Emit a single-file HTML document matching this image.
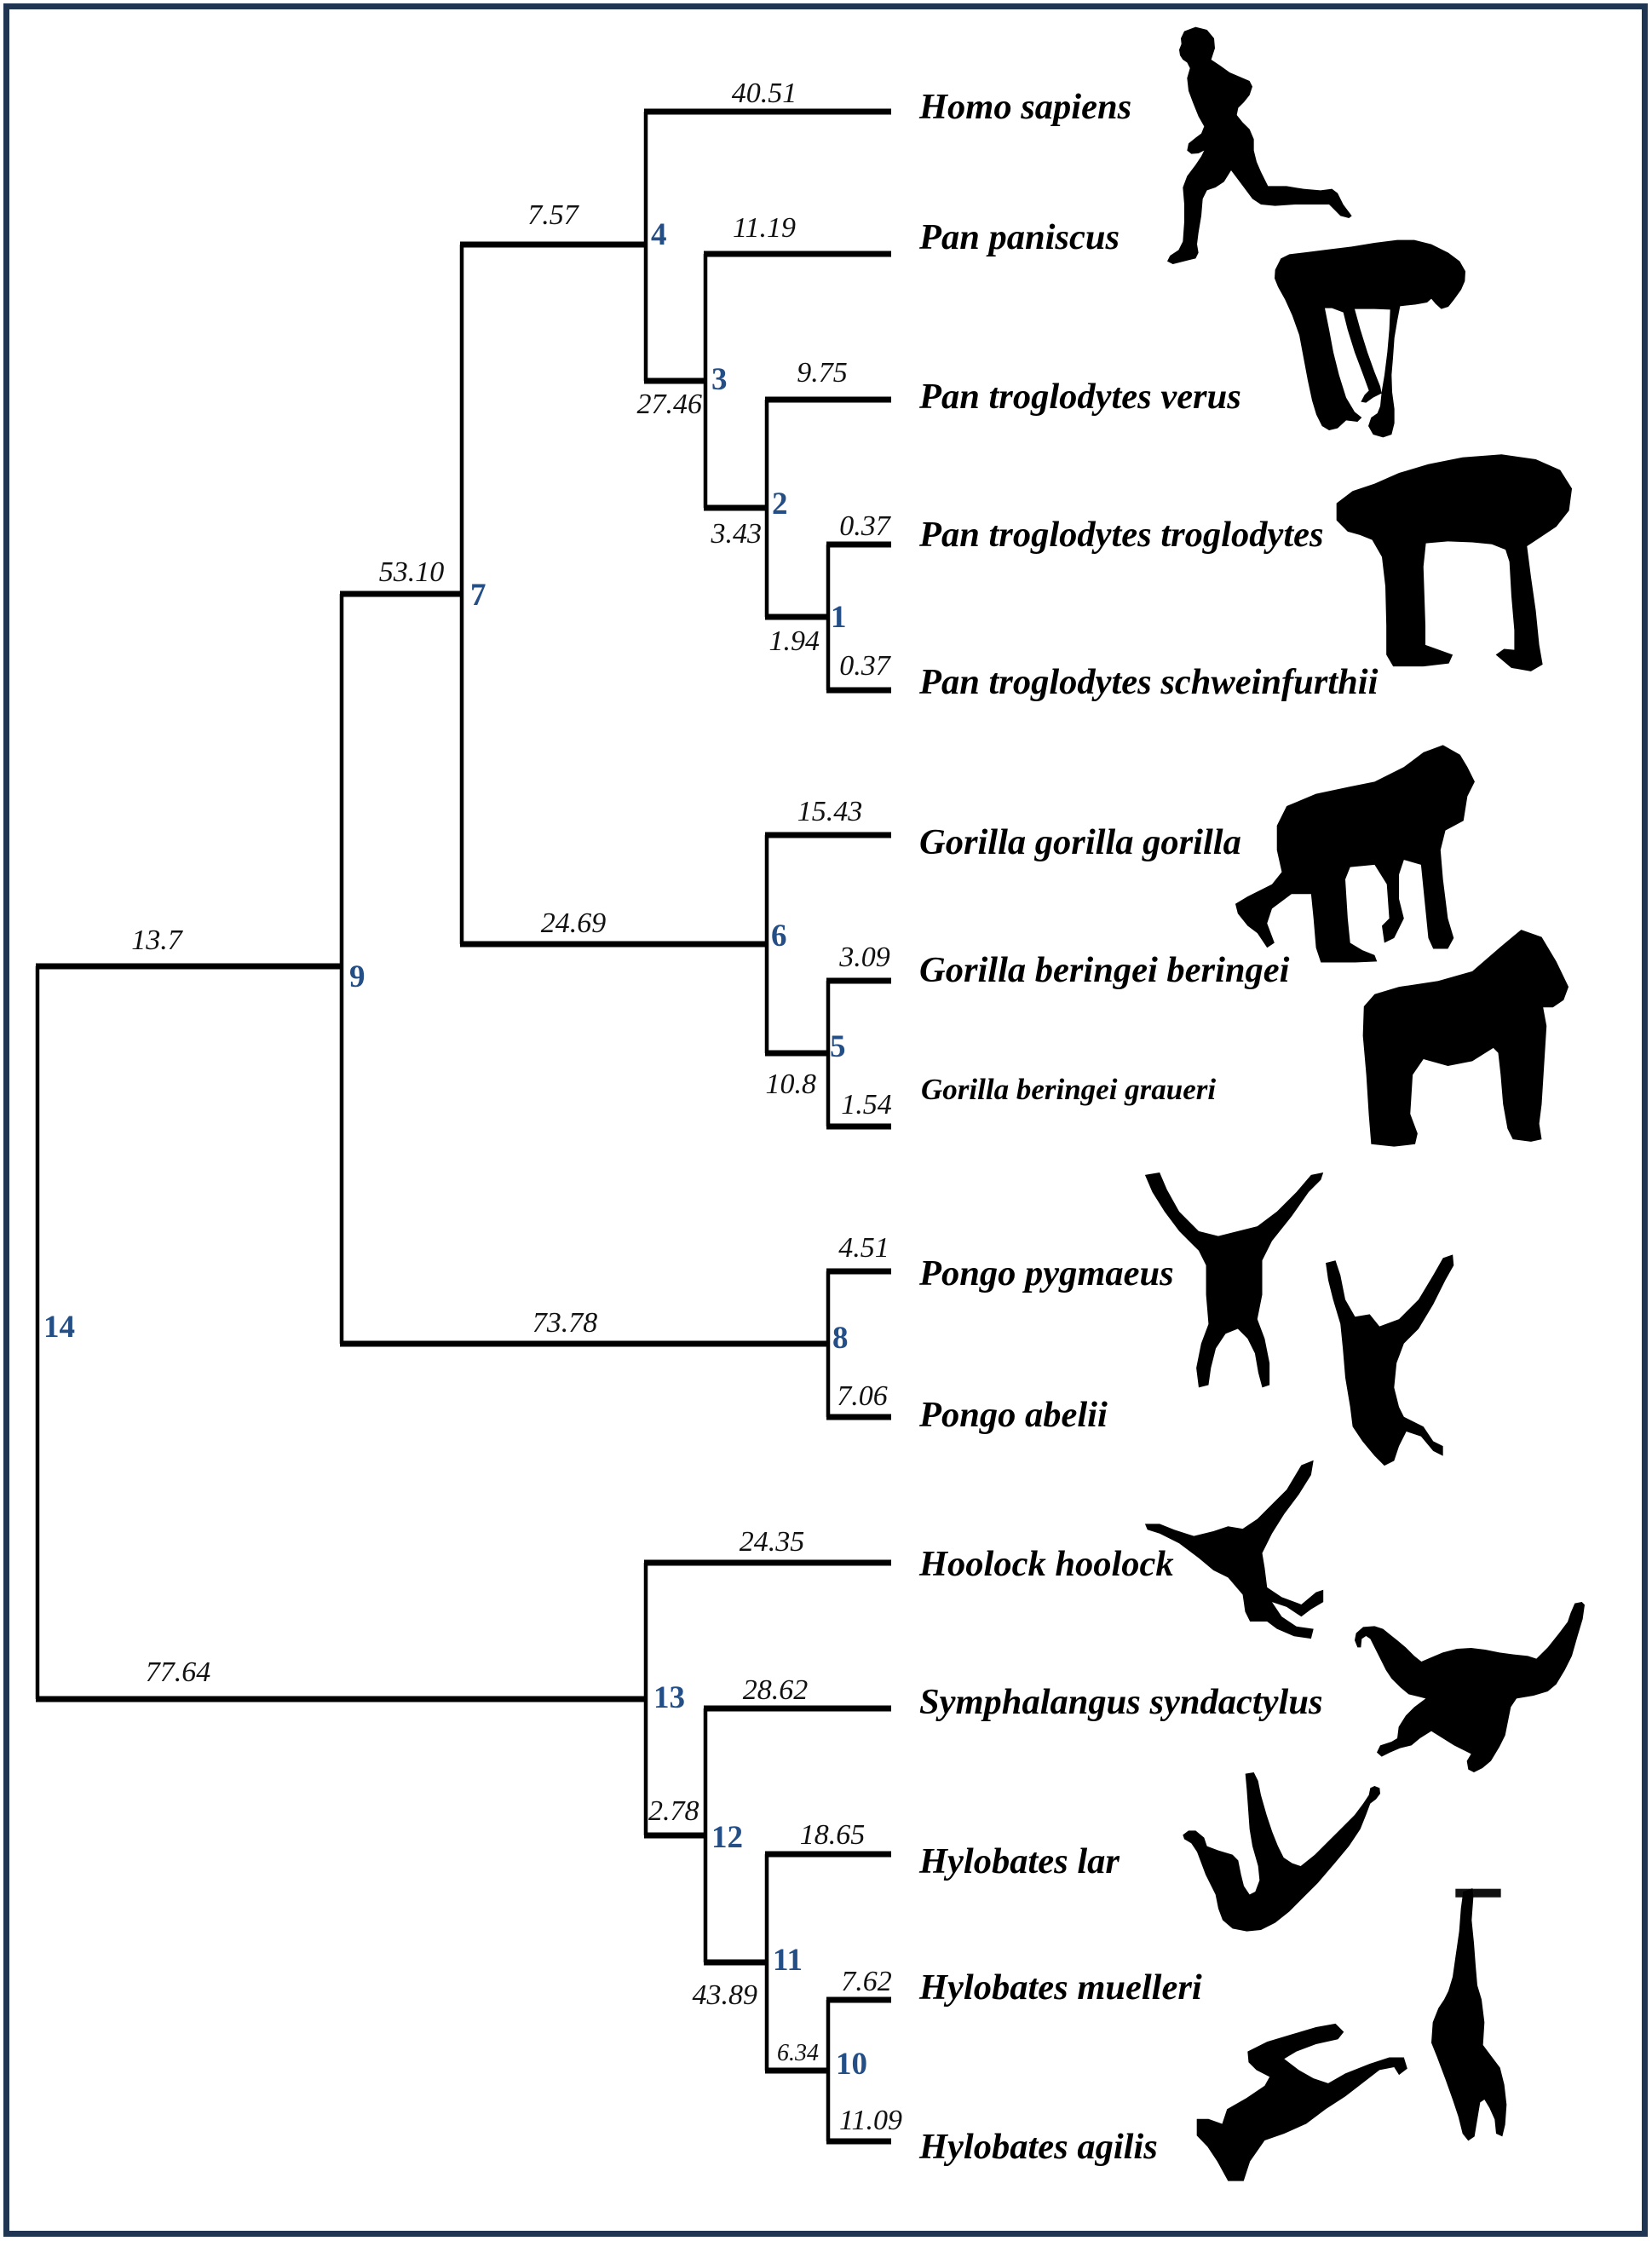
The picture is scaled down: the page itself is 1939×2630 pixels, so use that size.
<!DOCTYPE html>
<html>
<head>
<meta charset="utf-8">
<style>
html,body{margin:0;padding:0;background:#fff;}
svg{display:block;}
.bl{font-family:"Liberation Serif",serif;font-style:italic;font-size:34px;fill:#111;}
.nd{font-family:"Liberation Serif",serif;font-weight:bold;font-size:37px;fill:#244e86;}
.sp{font-family:"Liberation Serif",serif;font-weight:bold;font-style:italic;font-size:42.5px;fill:#000;}
</style>
</head>
<body>
<svg width="1939" height="2630" viewBox="0 0 1939 2630" xmlns="http://www.w3.org/2000/svg">
<rect x="0" y="0" width="1939" height="2630" fill="#fff"/>
<rect x="7.5" y="7.5" width="1923" height="2614" fill="none" stroke="#1f3552" stroke-width="7"/>

<!-- vertical lines -->
<g stroke="#000" stroke-width="4.5" fill="none">
<line x1="972" y1="639" x2="972" y2="810"/>
<line x1="900" y1="469" x2="900" y2="724"/>
<line x1="828" y1="298" x2="828" y2="596"/>
<line x1="758" y1="131" x2="758" y2="447"/>
<line x1="972" y1="1151" x2="972" y2="1322"/>
<line x1="900" y1="980" x2="900" y2="1236"/>
<line x1="542" y1="287" x2="542" y2="1108"/>
<line x1="972" y1="1492" x2="972" y2="1663"/>
<line x1="401" y1="697" x2="401" y2="1577"/>
<line x1="972" y1="2347" x2="972" y2="2513"/>
<line x1="900" y1="2176" x2="900" y2="2430"/>
<line x1="828" y1="2005" x2="828" y2="2303"/>
<line x1="758" y1="1834" x2="758" y2="2154"/>
<line x1="44" y1="1134" x2="44" y2="1994"/>
</g>
<!-- horizontal lines -->
<g stroke="#000" stroke-width="7" fill="none">
<line x1="756" y1="131" x2="1046" y2="131"/>
<line x1="826" y1="298" x2="1046" y2="298"/>
<line x1="898" y1="469" x2="1046" y2="469"/>
<line x1="970" y1="639" x2="1046" y2="639"/>
<line x1="970" y1="810" x2="1046" y2="810"/>
<line x1="898" y1="724" x2="974" y2="724"/>
<line x1="826" y1="596" x2="902" y2="596"/>
<line x1="756" y1="447" x2="830" y2="447"/>
<line x1="540" y1="287" x2="760" y2="287"/>
<line x1="898" y1="980" x2="1046" y2="980"/>
<line x1="970" y1="1151" x2="1046" y2="1151"/>
<line x1="970" y1="1322" x2="1046" y2="1322"/>
<line x1="898" y1="1236" x2="974" y2="1236"/>
<line x1="540" y1="1108" x2="902" y2="1108"/>
<line x1="399" y1="697" x2="544" y2="697"/>
<line x1="970" y1="1492" x2="1046" y2="1492"/>
<line x1="970" y1="1663" x2="1046" y2="1663"/>
<line x1="399" y1="1577" x2="974" y2="1577"/>
<line x1="42" y1="1134" x2="403" y2="1134"/>
<line x1="756" y1="1834" x2="1046" y2="1834"/>
<line x1="826" y1="2005" x2="1046" y2="2005"/>
<line x1="898" y1="2176" x2="1046" y2="2176"/>
<line x1="970" y1="2347" x2="1046" y2="2347"/>
<line x1="970" y1="2513" x2="1046" y2="2513"/>
<line x1="898" y1="2430" x2="974" y2="2430"/>
<line x1="826" y1="2303" x2="902" y2="2303"/>
<line x1="756" y1="2154" x2="830" y2="2154"/>
<line x1="42" y1="1994" x2="760" y2="1994"/>
</g>

<!-- branch length labels -->
<g class="bl">
<text x="897" y="120" text-anchor="middle">40.51</text>
<text x="649" y="263" text-anchor="middle">7.57</text>
<text x="897" y="278" text-anchor="middle">11.19</text>
<text x="824" y="485" text-anchor="end">27.46</text>
<text x="965" y="448" text-anchor="middle">9.75</text>
<text x="894" y="637" text-anchor="end">3.43</text>
<text x="1015" y="628" text-anchor="middle">0.37</text>
<text x="962" y="763" text-anchor="end">1.94</text>
<text x="1015" y="792" text-anchor="middle">0.37</text>
<text x="483" y="682" text-anchor="middle">53.10</text>
<text x="974" y="963" text-anchor="middle">15.43</text>
<text x="673" y="1094" text-anchor="middle">24.69</text>
<text x="184" y="1114" text-anchor="middle">13.7</text>
<text x="1015" y="1134" text-anchor="middle">3.09</text>
<text x="958" y="1283" text-anchor="end">10.8</text>
<text x="1017" y="1307" text-anchor="middle">1.54</text>
<text x="1014" y="1475" text-anchor="middle">4.51</text>
<text x="663" y="1563" text-anchor="middle">73.78</text>
<text x="1012" y="1649" text-anchor="middle">7.06</text>
<text x="906" y="1820" text-anchor="middle">24.35</text>
<text x="209" y="1973" text-anchor="middle">77.64</text>
<text x="910" y="1994" text-anchor="middle">28.62</text>
<text x="761" y="2136">2.78</text>
<text x="977" y="2164" text-anchor="middle">18.65</text>
<text x="889" y="2352" text-anchor="end">43.89</text>
<text x="1017" y="2336" text-anchor="middle">7.62</text>
<text x="912" y="2418" style="font-size:28px">6.34</text>
<text x="1022" y="2499" text-anchor="middle">11.09</text>
</g>

<!-- node numbers -->
<g class="nd">
<text x="764" y="287">4</text>
<text x="835" y="457">3</text>
<text x="906" y="603">2</text>
<text x="975" y="736">1</text>
<text x="552" y="710">7</text>
<text x="905" y="1110">6</text>
<text x="410" y="1158">9</text>
<text x="974" y="1240">5</text>
<text x="977" y="1582">8</text>
<text x="51" y="1569">14</text>
<text x="767" y="2004">13</text>
<text x="835" y="2168">12</text>
<text x="907" y="2312">11</text>
<text x="981" y="2434">10</text>
</g>

<!-- species names -->
<g class="sp">
<text x="1079" y="139">Homo sapiens</text>
<text x="1079" y="292">Pan paniscus</text>
<text x="1079" y="479">Pan troglodytes verus</text>
<text x="1079" y="641">Pan troglodytes troglodytes</text>
<text x="1079" y="814">Pan troglodytes schweinfurthii</text>
<text x="1079" y="1002">Gorilla gorilla gorilla</text>
<text x="1079" y="1152">Gorilla beringei beringei</text>
<text x="1081" y="1290" style="font-size:35px">Gorilla beringei graueri</text>
<text x="1079" y="1508">Pongo pygmaeus</text>
<text x="1079" y="1674">Pongo abelii</text>
<text x="1079" y="1849">Hoolock hoolock</text>
<text x="1079" y="2011">Symphalangus syndactylus</text>
<text x="1079" y="2198">Hylobates lar</text>
<text x="1079" y="2346">Hylobates muelleri</text>
<text x="1079" y="2533">Hylobates agilis</text>
</g>

<!-- human runner -->
<g transform="translate(1370,20) scale(0.33333)" fill="#000">
<polygon points="60,50 100,35 140,45 165,75 168,110 155,150 185,170 220,195 255,210 290,225 300,245 290,275 270,300 250,320 245,345 265,370 290,395 305,430 305,470 315,510 330,545 355,595 420,595 480,605 540,610 580,605 600,620 620,660 650,700 640,708 610,700 590,680 570,660 520,660 450,660 380,665 330,660 300,640 270,600 240,560 225,540 200,580 170,600 140,610 125,640 120,700 110,760 105,800 110,830 100,850 60,860 20,870 0,860 10,840 40,820 55,790 60,720 60,660 55,600 70,560 100,520 120,490 130,470 110,480 85,482 70,470 75,445 100,425 120,410 130,385 110,350 90,300 75,260 70,215 80,180 70,160 55,150 45,135 42,115 50,95 48,75"/>
</g>

<!-- bonobo -->
<g transform="translate(1480,280) scale(0.33333)" fill="#000">
<polygon points="50,110 70,70 100,55 160,48 240,38 320,28 400,15 480,5 540,5 600,20 660,50 700,80 720,115 718,150 705,180 680,215 660,240 635,248 615,230 600,212 585,225 545,232 490,238 480,290 470,350 465,420 460,480 462,540 470,600 470,650 460,690 430,700 395,690 378,660 388,630 410,615 420,590 425,540 435,480 445,400 452,320 455,250 400,248 330,248 350,320 375,400 400,470 420,520 425,545 395,560 370,578 352,575 365,550 380,535 360,480 330,400 305,320 290,260 250,245 225,245 240,320 255,400 275,480 300,560 330,610 355,630 340,645 300,640 270,668 240,675 215,660 195,620 180,570 165,500 150,420 135,340 110,270 85,215 60,170 48,140"/>
</g>

<!-- chimpanzee -->
<g transform="translate(1040,0) scale(0.5734)" fill="#000">
<polygon points="922,1030 955,1005 1000,990 1050,968 1110,950 1180,936 1260,930 1330,940 1380,962 1404,1000 1398,1045 1372,1078 1342,1098 1312,1118 1320,1180 1330,1250 1337,1320 1344,1360 1320,1374 1280,1367 1248,1340 1265,1328 1286,1330 1286,1290 1280,1220 1276,1150 1268,1125 1240,1114 1200,1110 1150,1108 1105,1112 1100,1160 1102,1220 1104,1280 1104,1320 1132,1330 1160,1340 1152,1358 1100,1364 1038,1364 1024,1340 1024,1280 1022,1200 1015,1140 995,1105 970,1095 945,1088 922,1065"/>
</g>

<!-- gorillas & orangutans -->
<g transform="translate(1040,860) scale(0.5734)" fill="#000">
<polygon points="820,150 880,125 950,110 1000,100 1060,70 1100,40 1140,25 1175,45 1190,70 1205,100 1190,130 1182,180 1145,200 1135,240 1140,300 1150,380 1162,420 1150,442 1120,442 1110,420 1105,370 1100,320 1095,270 1060,260 1050,290 1050,340 1060,380 1040,420 1020,430 1015,395 1030,380 1025,310 1000,270 950,275 940,300 945,380 950,430 975,445 1000,455 1005,468 960,470 890,470 880,440 875,380 870,330 830,330 790,360 780,390 795,430 780,440 760,410 740,395 720,370 715,350 740,335 790,310 810,285 800,240 800,190"/>
<polygon points="1000,535 1050,520 1130,508 1200,488 1258,438 1300,403 1342,418 1372,468 1397,520 1387,547 1365,562 1345,562 1352,600 1347,680 1342,760 1337,800 1342,832 1320,837 1283,832 1272,810 1263,760 1258,700 1253,655 1243,645 1200,672 1150,682 1100,668 1078,700 1073,780 1088,820 1083,842 1040,847 993,842 988,780 983,700 976,620 978,560"/>
<polygon points="530,905 560,900 575,935 600,980 640,1020 680,1030 720,1020 760,1010 800,980 840,940 870,905 895,900 890,915 865,940 830,990 790,1040 770,1080 770,1150 760,1200 775,1240 785,1290 785,1335 770,1340 762,1310 755,1270 740,1240 720,1220 695,1230 675,1260 665,1300 660,1335 640,1340 635,1300 645,1250 660,1210 655,1150 655,1090 640,1060 600,1020 570,980 545,940"/>
<polygon points="900,1085 920,1080 930,1110 940,1160 960,1195 990,1190 1010,1215 1050,1200 1090,1160 1120,1110 1140,1075 1160,1068 1162,1090 1145,1120 1120,1170 1090,1220 1060,1250 1045,1290 1040,1340 1050,1380 1060,1400 1100,1420 1120,1450 1140,1460 1140,1480 1120,1470 1095,1440 1065,1430 1050,1460 1040,1490 1020,1500 1000,1480 975,1450 955,1420 950,1380 940,1320 935,1260 930,1210 915,1160 905,1120"/>
</g>

<!-- hoolock & agilis -->
<g transform="translate(1040,1731) scale(0.5734)" fill="#000">
<polygon points="530,100 560,100 590,112 630,125 670,115 700,105 730,110 760,90 790,60 820,30 850,-20 875,-30 870,0 845,40 815,80 790,120 770,160 775,190 780,230 810,250 850,265 880,240 895,235 895,260 870,275 850,290 820,270 790,260 810,290 840,310 875,315 870,335 835,330 800,315 780,300 745,300 735,280 730,245 700,210 670,195 640,170 600,140 560,120 535,112"/>
<polygon points="740,1180 780,1160 830,1145 880,1130 920,1123 937,1140 925,1155 880,1165 840,1180 815,1195 845,1218 875,1235 905,1245 940,1225 990,1205 1030,1192 1060,1192 1067,1215 1050,1228 1040,1212 1010,1218 975,1245 940,1272 900,1298 860,1328 815,1348 775,1362 745,1405 732,1445 700,1445 678,1405 658,1375 636,1352 636,1318 660,1318 688,1328 698,1298 738,1275 775,1250 785,1232 758,1218 742,1202"/>
</g>

<!-- siamang -->
<g transform="translate(1560,1880) scale(0.33333)" fill="#000">
<polygon points="95,110 120,88 160,85 190,95 215,115 240,135 270,160 300,190 325,210 360,195 400,178 450,165 500,162 550,168 600,178 650,185 700,190 730,200 770,160 810,110 840,70 850,40 865,5 890,0 900,10 893,60 875,120 855,190 830,240 800,290 770,315 720,330 660,340 640,370 630,420 620,470 600,510 570,560 540,585 510,600 490,590 485,560 500,535 470,520 440,505 400,480 360,455 320,480 290,505 250,515 215,530 185,545 168,530 180,505 220,492 240,480 245,440 270,400 300,370 340,340 320,335 280,325 250,300 220,270 200,240 180,200 160,160 145,130 130,120 115,130 112,160 100,160 90,135"/>
</g>

<!-- lar & muelleri -->
<g transform="translate(1380,2080) scale(0.33333)" fill="#000">
<polygon points="245,5 275,0 290,30 300,80 320,150 340,210 360,260 380,300 410,320 440,330 490,290 540,240 590,190 630,150 660,110 680,80 685,55 700,48 718,55 720,75 705,95 685,110 670,150 650,200 610,260 560,320 500,390 450,440 400,490 350,530 300,555 250,560 200,550 165,520 150,480 140,430 125,400 105,360 90,320 75,280 55,250 30,235 25,220 45,205 70,205 100,230 110,260 150,275 200,290 220,310 230,360 240,400 260,430 280,420 295,380 290,330 270,260 260,200 255,130 250,60"/>
<rect x="985" y="410" width="160" height="30" fill="#111"/>
<polygon points="1012,420 1045,408 1048,440 1042,520 1050,600 1056,680 1062,750 1077,800 1087,880 1082,960 1112,1000 1142,1040 1157,1100 1165,1170 1160,1240 1150,1282 1128,1272 1123,1222 1105,1182 1087,1152 1072,1162 1062,1222 1052,1282 1030,1297 1010,1272 995,1212 975,1152 950,1082 920,1002 900,952 905,880 925,830 945,800 960,770 975,720 985,650 998,560 1004,480"/>
</g>
</svg>
</body>
</html>
